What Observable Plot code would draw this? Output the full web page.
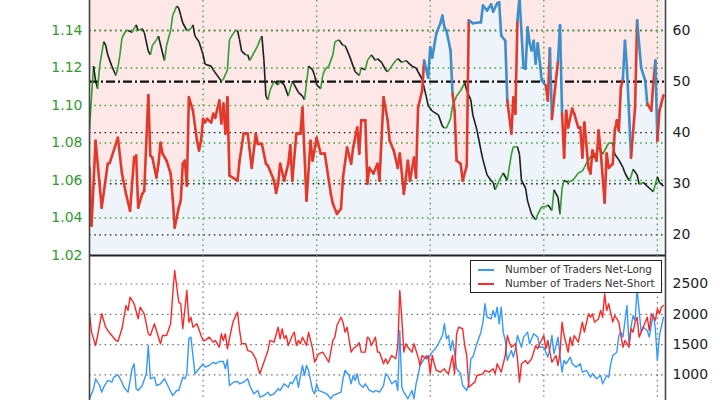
<!DOCTYPE html>
<html><head><meta charset="utf-8">
<script src="https://cdn.jsdelivr.net/npm/d3@7"></script>
<script src="https://cdn.jsdelivr.net/npm/@observablehq/plot@0.6"></script>
<style>
html,body{margin:0;padding:0;background:#fff;}
#wrap{position:relative;width:720px;height:400px;overflow:hidden;font-family:"DejaVu Sans",sans-serif;}
#legend{position:absolute;left:470px;top:260px;width:190px;height:31px;border:1px solid #222;background:#fff;font-family:"DejaVu Sans",sans-serif;font-size:10.4px;color:#333;}
#legend .row{position:absolute;left:0;height:12px;width:190px;}
#legend .sw{position:absolute;left:7px;top:5px;width:16px;height:1.5px;}
#legend .lb{position:absolute;left:34px;top:-1px;white-space:nowrap;line-height:12px;}
</style></head>
<body><div id="wrap"><div id="legend"></div></div>
<script>
// ---- data (x = trading-day index) ----
const sentimentPct = [[0,33.1],[1,21.8],[3,38.4],[6,25.3],[9,33.9],[10,34.1],[14,39.0],[16,32.0],[18,28.0],[20,24.7],[22,35.1],[23,35.5],[24,25.3],[26,28.0],[27,28.6],[29,47.3],[30,35.5],[31,35.1],[33,31.2],[34,33.9],[35,38.0],[36,35.9],[38,34.5],[40,32.0],[41,27.3],[42,21.4],[44,25.3],[45,26.7],[46,33.9],[47,34.5],[48,29.6],[49,46.9],[51,44.3],[53,38.4],[54,36.5],[55,38.4],[56,42.7],[57,42.0],[58,42.7],[60,42.0],[61,43.7],[62,42.9],[64,46.3],[65,41.8],[66,45.7],[67,39.8],[68,46.9],[69,31.6],[73,30.6],[74,34.5],[76,39.8],[78,39.8],[80,33.1],[82,39.8],[83,37.8],[85,37.8],[87,33.9],[88,33.5],[91,30.6],[92,28.2],[93,30.0],[94,33.9],[96,30.6],[98,33.9],[99,37.5],[100,30.6],[102,39.8],[104,39.8],[105,44.9],[107,26.7],[109,38.4],[110,34.5],[112,39.0],[114,35.9],[116,35.9],[119,28.0],[120,26.1],[122,24.1],[124,25.1],[125,31.2],[127,37.1],[129,33.9],[130,37.1],[132,41.0],[133,35.9],[134,42.4],[136,42.4],[137,30.0],[138,33.1],[140,32.0],[142,33.9],[143,30.6],[145,46.9],[147,42.4],[148,38.4],[150,36.5],[152,33.1],[153,35.9],[155,28.0],[157,34.5],[158,30.6],[160,35.1],[161,31.2],[162,44.9],[164,48.2],[165,54.1],[167,50.8],[168,56.7],[169,54.7],[171,59.4],[173,61.4],[174,62.9],[175,60.6],[176,60.0],[178,56.1],[179,47.6],[180,44.3],[181,34.5],[183,33.9],[184,30.6],[186,33.5],[187,62.0],[189,61.4],[193,61.6],[194,64.9],[196,63.9],[198,65.1],[199,63.7],[201,65.3],[202,65.5],[203,59.0],[205,58.0],[206,46.3],[208,39.8],[209,46.9],[210,43.7],[211,62.0],[212,66.5],[214,52.7],[215,52.5],[216,60.6],[217,57.5],[218,56.1],[219,58.0],[220,53.5],[221,57.5],[223,50.2],[225,49.2],[226,46.3],[227,56.5],[228,42.7],[231,54.1],[232,61.0],[233,43.7],[234,35.1],[235,44.3],[236,41.0],[238,44.7],[239,43.7],[241,41.0],[242,41.0],[243,35.1],[244,42.0],[246,33.1],[247,32.0],[248,36.5],[250,34.5],[251,40.4],[252,36.5],[254,26.3],[255,35.9],[256,33.1],[258,33.9],[259,40.4],[260,42.4],[261,40.4],[262,48.8],[263,50.5],[264,58.0],[265,52.7],[267,35.1],[269,44.9],[270,62.0],[272,52.7],[274,50.2],[275,45.7],[277,44.3],[278,49.6],[279,54.1],[280,38.4],[281,44.3],[283,47.3]];

const eurusdClose = [[0,1.087],[1,1.105],[2,1.121],[3,1.113],[4,1.109],[5,1.121],[7,1.134],[8,1.132],[9,1.127],[11,1.121],[13,1.116],[14,1.120],[15,1.127],[16,1.136],[18,1.140],[19,1.140],[21,1.139],[23,1.143],[24,1.140],[26,1.141],[27,1.139],[29,1.129],[30,1.127],[31,1.132],[33,1.135],[34,1.137],[36,1.128],[37,1.124],[38,1.132],[40,1.140],[41,1.148],[43,1.153],[44,1.152],[45,1.148],[46,1.144],[48,1.140],[50,1.141],[51,1.143],[52,1.137],[54,1.134],[56,1.127],[57,1.122],[60,1.121],[61,1.119],[63,1.116],[65,1.113],[66,1.114],[68,1.119],[69,1.135],[70,1.137],[72,1.140],[73,1.140],[74,1.135],[75,1.129],[77,1.127],[78,1.127],[79,1.124],[81,1.128],[83,1.132],[84,1.135],[85,1.137],[86,1.124],[87,1.105],[88,1.103],[89,1.108],[91,1.113],[93,1.111],[94,1.113],[96,1.111],[98,1.105],[100,1.113],[101,1.111],[103,1.107],[105,1.105],[106,1.103],[108,1.121],[110,1.119],[111,1.116],[112,1.111],[114,1.109],[115,1.116],[116,1.119],[118,1.121],[120,1.127],[121,1.134],[123,1.135],[125,1.132],[126,1.132],[128,1.127],[130,1.121],[131,1.118],[133,1.116],[134,1.120],[136,1.119],[137,1.124],[139,1.127],[141,1.124],[142,1.125],[144,1.123],[146,1.119],[147,1.118],[149,1.121],[151,1.124],[152,1.125],[154,1.123],[156,1.124],[157,1.123],[159,1.121],[161,1.120],[162,1.118],[164,1.114],[166,1.105],[167,1.100],[169,1.097],[172,1.095],[174,1.089],[175,1.088],[176,1.088],[178,1.093],[179,1.100],[181,1.105],[183,1.108],[185,1.112],[186,1.108],[188,1.103],[189,1.095],[191,1.087],[193,1.076],[194,1.071],[196,1.063],[198,1.060],[199,1.059],[200,1.055],[202,1.060],[204,1.064],[206,1.060],[208,1.074],[209,1.078],[211,1.078],[212,1.074],[213,1.060],[215,1.056],[216,1.049],[218,1.042],[220,1.039],[221,1.042],[223,1.046],[225,1.046],[226,1.047],[228,1.044],[229,1.055],[231,1.051],[232,1.042],[233,1.056],[234,1.060],[236,1.059],[238,1.060],[239,1.061],[241,1.064],[243,1.065],[244,1.067],[246,1.071],[248,1.074],[249,1.072],[251,1.078],[253,1.074],[254,1.076],[256,1.080],[258,1.080],[259,1.074],[261,1.071],[263,1.067],[264,1.064],[266,1.060],[267,1.062],[268,1.066],[270,1.063],[271,1.058],[273,1.059],[275,1.057],[276,1.056],[278,1.054],[280,1.062],[281,1.059],[283,1.057]];

const tradersNetLong = [[0,606],[2,771],[3,936],[5,825],[6,715],[7,797],[9,908],[11,880],[12,962],[14,1002],[16,880],[17,797],[19,715],[21,1101],[22,1183],[23,771],[24,743],[26,825],[28,1018],[29,1485],[30,936],[32,962],[33,825],[35,853],[37,936],[39,797],[41,660],[43,743],[44,743],[46,962],[47,936],[48,1018],[49,1596],[50,1623],[51,1320],[52,1018],[54,1101],[56,1183],[57,1128],[59,1155],[61,1210],[62,1183],[64,1221],[66,1221],[67,1101],[68,1249],[69,825],[71,880],[73,891],[74,853],[76,880],[78,936],[79,825],[81,688],[83,743],[84,633],[86,660],[88,715],[89,660],[91,688],[93,771],[94,743],[96,853],[98,797],[99,880],[100,853],[102,990],[103,797],[105,1155],[106,990],[107,1155],[108,1073],[110,743],[111,688],[112,853],[113,743],[115,715],[117,688],[119,606],[120,660],[122,688],[124,715],[125,936],[126,1073],[128,990],[129,853],[130,990],[131,908],[132,1018],[133,853],[135,797],[136,853],[138,743],[140,715],[141,743],[143,715],[145,825],[146,1018],[147,990],[149,853],[151,908],[152,743],[153,1733],[154,797],[155,715],[157,606],[159,743],[160,606],[161,853],[162,990],[163,1155],[165,1265],[166,1320],[167,1265],[168,1320],[169,1375],[171,1457],[172,1513],[174,1650],[175,1843],[176,1596],[177,1650],[178,1403],[179,1568],[180,1375],[181,1101],[183,1018],[184,825],[186,743],[187,853],[188,1265],[189,1293],[191,1513],[193,1705],[194,1870],[195,2173],[196,1952],[198,1926],[199,2063],[200,1952],[201,2117],[202,1843],[203,2117],[204,1705],[205,1568],[206,1238],[208,1403],[209,1293],[210,1430],[211,1650],[213,1457],[214,1623],[216,1705],[217,1513],[219,1678],[221,1623],[222,1457],[224,1457],[226,1293],[227,1430],[228,1650],[229,1348],[231,1623],[232,1320],[233,1046],[234,1238],[235,1183],[237,1293],[238,1183],[240,1128],[242,1183],[243,1046],[245,1073],[247,962],[248,1018],[250,936],[252,990],[253,853],[255,990],[256,962],[257,1183],[258,1320],[260,1375],[261,1650],[262,1705],[263,1623],[265,2145],[266,1513],[267,1787],[268,1980],[269,1898],[270,2420],[272,1705],[273,1787],[275,1733],[276,1623],[278,2008],[279,1761],[280,1238],[281,1650],[283,1952]];

const tradersNetShort = [[0,2008],[1,1705],[3,1485],[4,1650],[6,2008],[8,1787],[9,1733],[11,1650],[13,1568],[14,1551],[16,1761],[18,2145],[19,2063],[20,2282],[22,2173],[24,1926],[25,2117],[27,2008],[29,1678],[30,1650],[32,1843],[33,1733],[35,1513],[36,1650],[38,1650],[40,1843],[41,2310],[42,2723],[44,2200],[45,2173],[46,1761],[48,2393],[49,1870],[50,1952],[51,1787],[53,1843],[55,1650],[56,1568],[57,1568],[59,1623],[61,1540],[62,1568],[64,1457],[65,1678],[66,1568],[67,1678],[68,1430],[70,1761],[71,1898],[73,2035],[74,1733],[75,1513],[77,1513],[78,1403],[80,1375],[82,1265],[83,1128],[84,1018],[86,1210],[88,1403],[89,1568],[91,1540],[93,1787],[94,1596],[95,1761],[96,1600],[97,1650],[98,1485],[100,1650],[101,1705],[102,1485],[103,1568],[104,1513],[105,1623],[107,1485],[108,1705],[110,1430],[111,1210],[113,1348],[115,1375],[116,1320],[118,1210],[120,1568],[121,1623],[122,1815],[124,1952],[125,1870],[126,1705],[127,1787],[129,1375],[130,1430],[132,1485],[133,1530],[134,1375],[136,1375],[137,1623],[138,1596],[139,1485],[141,1623],[142,1375],[143,1375],[145,1183],[146,1265],[147,1183],[149,1320],[151,1265],[152,1485],[153,2393],[154,1926],[155,1375],[156,1513],[157,1457],[159,1375],[160,1513],[162,1293],[163,1155],[164,1320],[166,1265],[167,1320],[168,1018],[169,1320],[170,1183],[171,1073],[173,1046],[175,1101],[176,1046],[177,1018],[179,1320],[180,1018],[181,1678],[182,1787],[184,1761],[185,1485],[186,1320],[187,797],[189,853],[190,880],[191,990],[194,1018],[195,1073],[197,1046],[199,1101],[200,1018],[201,1183],[203,1046],[205,1320],[206,1650],[207,1540],[208,1457],[210,1513],[211,1265],[212,880],[213,1183],[215,1238],[216,1183],[218,1265],[220,1485],[221,1430],[222,1513],[224,1650],[225,1430],[226,1568],[227,1375],[228,1210],[230,1320],[231,1155],[232,1375],[233,1870],[234,1650],[236,1375],[237,1623],[238,1485],[239,1650],[241,1540],[243,1870],[244,1705],[246,2008],[247,1952],[248,2008],[249,1870],[251,1926],[252,2063],[253,1952],[254,2338],[255,2063],[256,2173],[258,1870],[259,1980],[261,1870],[262,1650],[263,1457],[264,1568],[266,1457],[267,1761],[268,1705],[269,1870],[270,1952],[271,1623],[273,1787],[275,1952],[276,1733],[277,2008],[279,1898],[280,2090],[281,2008],[282,2117],[283,2145]];

const priceTicks = [1.02, 1.04, 1.06, 1.08, 1.10, 1.12, 1.14];
const sentimentTicks = [20, 30, 40, 50, 60];
const traderTicks = [500, 1000, 1500, 2000, 2500];
const dayTicks = [56, 112, 168, 224, 280];
const legendLabels = ["Number of Traders Net-Long", "Number of Traders Net-Short"];

// ---- styling ----
const xDomain = [0, 284];
const priceDomain = [1.02, 1.156];
const sentDomain = [15.95, 65.87];
const traderDomain = [0, 2970];
const C = {
  green: "#2e9c2e", gridGreen: "#3fa83f", pink: "#fde7e7", paleBlue: "#eef4fa",
  sentRed: "#e3392b", sentBlue: "#3d8fcc", upGreen: "#2f9e2f", down: "#1e1e1e",
  longBlue: "#3399ff", shortRed: "#ff2626", axis: "#222", spine: "#444"
};
const dots = "1.6,3.6";
const FONT = "DejaVu Sans";

const wrap = document.getElementById("wrap");
function mount(svg, top) {
  svg.style.position = "absolute"; svg.style.left = "0px"; svg.style.top = top + "px";
  svg.style.background = "transparent"; svg.style.overflow = "visible"; svg.style.maxWidth = "none";
  wrap.insertBefore(svg, document.getElementById("legend"));
}

const sent = sentimentPct.map(([t, v]) => ({t, v}));
const sentSegs = d3.pairs(sent).map(([a, b]) => ({x1: a.t, y1: a.v, x2: b.t, y2: b.v, c: a.v >= 50 ? C.sentBlue : C.sentRed}));
const price = eurusdClose.map(([t, p]) => ({t, p}));
const priceSegs = d3.pairs(price).map(([a, b]) => ({x1: a.t, y1: a.p, x2: b.t, y2: b.p, c: b.p >= a.p ? C.upGreen : C.down}));
const longS = tradersNetLong.map(([t, n]) => ({t, n}));
const shortS = tradersNetShort.map(([t, n]) => ({t, n}));

const base = {width: 720, height: 255, marginLeft: 89, marginRight: 55, marginTop: 0, marginBottom: 0,
  x: {domain: xDomain, axis: null}, color: {type: "identity"}, style: {fontFamily: FONT}};

// Layer A: background fills + sentiment grid
mount(Plot.plot({...base, y: {domain: sentDomain, axis: null}, marks: [
  Plot.areaY(sent, {x: "t", y1: "v", y2: sentDomain[1], fill: C.pink, clip: true}),
  Plot.areaY(sent, {x: "t", y1: sentDomain[0], y2: "v", fill: C.paleBlue, clip: true}),
  Plot.ruleY(sentimentTicks.filter(d => d !== 50), {stroke: "#222", strokeWidth: 1.3, strokeDasharray: dots}),
  Plot.ruleY([50], {stroke: "#111", strokeWidth: 2.2, strokeDasharray: "9,3,2,3"})
]}), 0);

// Layer B: price grid, price line, left axis
mount(Plot.plot({...base, y: {domain: priceDomain, axis: null}, marks: [
  Plot.ruleY(priceTicks.slice(1), {stroke: C.gridGreen, strokeWidth: 1.3, strokeDasharray: dots}),
  Plot.ruleX(dayTicks, {stroke: C.gridGreen, strokeWidth: 1.3, strokeDasharray: dots}),
  Plot.link(priceSegs, {x1: "x1", y1: "y1", x2: "x2", y2: "y2", stroke: "c", strokeWidth: 1.6, clip: true}),
  Plot.axisY(priceTicks, {anchor: "left", label: null, tickSize: 0, tickPadding: 7, tickFormat: d3.format(".2f"), color: C.green, fontSize: 14, fontFamily: FONT})
]}), 0);

// Layer C: sentiment line, right axis, spines
mount(Plot.plot({...base, y: {domain: sentDomain, axis: null}, marks: [
  Plot.link(sentSegs, {x1: "x1", y1: "y1", x2: "x2", y2: "y2", stroke: "c", strokeWidth: 2.6, strokeLinecap: "round", clip: true}),
  Plot.axisY(sentimentTicks, {anchor: "right", label: null, tickSize: 0, tickPadding: 7, tickFormat: d3.format("d"), color: C.axis, fontSize: 14, fontFamily: FONT}),
  Plot.ruleX(xDomain, {stroke: C.spine, strokeWidth: 1.6}),
  Plot.ruleY([sentDomain[0]], {stroke: "#222", strokeWidth: 2})
]}), 0);

// Bottom panel: trader counts
mount(Plot.plot({...base, height: 180, y: {domain: traderDomain, axis: null}, marks: [
  Plot.ruleY(traderTicks, {stroke: "#777", strokeWidth: 1.2, strokeDasharray: dots}),
  Plot.ruleX(dayTicks, {stroke: "#777", strokeWidth: 1.2, strokeDasharray: dots}),
  Plot.line(longS, {x: "t", y: "n", stroke: C.longBlue, strokeWidth: 1.4}),
  Plot.line(shortS, {x: "t", y: "n", stroke: C.shortRed, strokeWidth: 1.4}),
  Plot.axisY(traderTicks, {anchor: "right", label: null, tickSize: 0, tickPadding: 7, tickFormat: d3.format("d"), color: C.axis, fontSize: 14, fontFamily: FONT}),
  Plot.ruleX(xDomain, {stroke: C.spine, strokeWidth: 1.6})
]}), 255);

// Legend
const legend = document.getElementById("legend");
[C.longBlue, C.shortRed].forEach((col, i) => {
  const row = document.createElement("div");
  row.className = "row"; row.style.top = (3 + i * 14) + "px";
  row.innerHTML = `<div class="sw" style="background:${col}"></div><div class="lb">${legendLabels[i]}</div>`;
  legend.appendChild(row);
});
</script>
</body></html>
